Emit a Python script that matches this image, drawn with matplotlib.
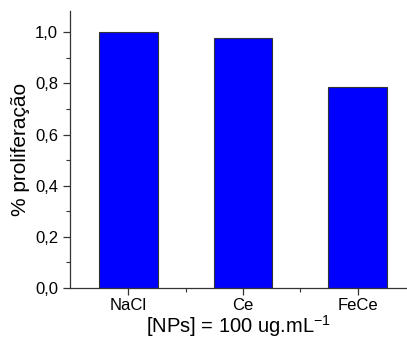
import matplotlib
matplotlib.use("Agg")
import matplotlib.pyplot as plt
from matplotlib.ticker import MultipleLocator, FixedLocator, FuncFormatter

# values
samples = ["NaCl", "Ce", "FeCe"]
proliferation = [1.0, 0.977, 0.785]

plt.rcParams["font.family"] = ["Liberation Sans", "DejaVu Sans"]
plt.rcParams["mathtext.fontset"] = "custom"
plt.rcParams["mathtext.rm"] = "Liberation Sans"

fig = plt.figure(figsize=(4.07, 3.38), dpi=100)
ax = fig.add_axes([0.172, 0.148, 0.828, 0.819])

x = list(range(len(samples)))
ax.bar(x, proliferation, width=0.51, color="#0000FF", edgecolor="#333333",
       linewidth=0.8, zorder=2)

ax.set_xlim(-0.51, 2.43)
ax.set_ylim(0, 1.083)

ax.set_xticks(x)
ax.set_xticklabels(samples)
ax.xaxis.set_minor_locator(FixedLocator([0.5, 1.5]))
ax.yaxis.set_major_locator(MultipleLocator(0.2))
ax.yaxis.set_minor_locator(MultipleLocator(0.1))
ax.yaxis.set_major_formatter(FuncFormatter(lambda v, p: f"{v:.1f}".replace(".", ",")))

ax.tick_params(which="major", direction="out", length=5, width=0.9,
               labelsize=12, color="#333333")
ax.tick_params(which="minor", direction="out", length=3, width=0.8, color="#333333")
ax.tick_params(axis="x", pad=2)

ax.spines[["top", "right"]].set_visible(False)
for s in ["left", "bottom"]:
    ax.spines[s].set_linewidth(0.9)
    ax.spines[s].set_color("#333333")

ax.set_ylabel("% proliferação", fontsize=15, labelpad=4)
ax.set_xlabel("[NPs] = 100 ug.mL$^{\\mathrm{-1}}$", fontsize=14.5, labelpad=0)

fig.savefig("out.png", dpi=100, facecolor="white")
